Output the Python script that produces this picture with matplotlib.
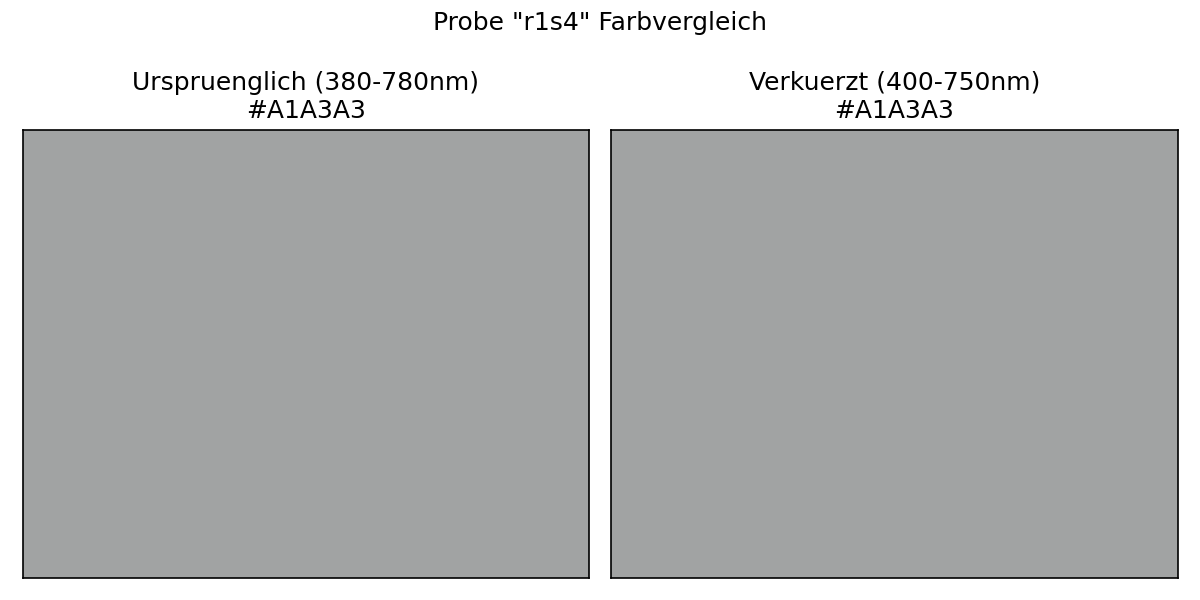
import matplotlib
matplotlib.use("Agg")
import matplotlib.pyplot as plt

sample_name = "r1s4"
panel_titles = ["Urspruenglich (380-780nm)", "Verkuerzt (400-750nm)"]
panel_colors = ["#A1A3A3", "#A1A3A3"]

fig = plt.figure(figsize=(8, 4), dpi=150)
positions = [
    [23 / 1200, 22 / 600, 566 / 1200, 448 / 600],
    [611 / 1200, 22 / 600, 567 / 1200, 448 / 600],
]

for pos, title, color in zip(positions, panel_titles, panel_colors):
    ax = fig.add_axes(pos)
    ax.set_facecolor(color)
    ax.set_xticks([])
    ax.set_yticks([])
    ax.set_title(f"{title}\n{color}", fontsize=12)

fig.suptitle(f'Probe "{sample_name}" Farbvergleich', fontsize=12, y=0.962, va="center")
fig.savefig("out.png", dpi=150)
